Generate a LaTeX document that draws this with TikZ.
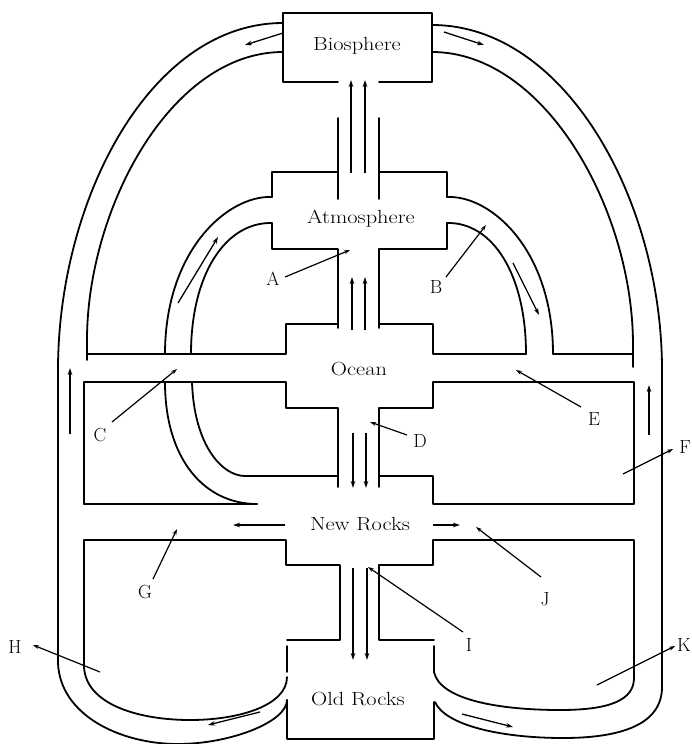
\documentclass[tikz,border=0pt]{standalone}
\usetikzlibrary{arrows.meta}
\newcommand\widetext[1]{\scalebox{1.18}[1]{#1}}
\begin{document}
\begin{tikzpicture}[x=1pt,y=-1pt,
  wall/.style={line width=1.8pt, line join=round, line cap=round},
  flow/.style={line width=1.3pt, -{Stealth[length=7pt,width=4.5pt]}},
  ptr/.style={line width=1.2pt, -{Stealth[length=6pt,width=4pt]}},
  lbl/.style={font=\fontsize{19}{21}\selectfont, inner sep=0pt},
  res/.style={font=\fontsize{19}{21}\selectfont, inner sep=0pt}]
\useasboundingbox (0,0) rectangle (692,744);

% reservoir names
\node[res] (bio) at (357,46) {\widetext{Biosphere}};
\node[res] (atm) at (361,219) {\widetext{Atmosphere}};
\node[res] (oce) at (359,369) {\widetext{Ocean}};
\node[res] (new) at (360,524) {\widetext{New Rocks}};
\node[res] (old) at (358,699) {\widetext{Old Rocks}};

% Biosphere box
\draw[wall] (338,82) -- (283,82) -- (283,13) -- (432,13) -- (432,82) -- (379,82);
% channel biosphere - atmosphere
\draw[wall] (338,118) -- (338,199);
\draw[wall] (379,118) -- (379,199);
% Atmosphere
\draw[wall] (272,197) -- (272,172) -- (338,172);
\draw[wall] (379,172) -- (447,172) -- (447,197);
\draw[wall] (272,223) -- (272,249) -- (338,249) -- (338,328);
\draw[wall] (447,223) -- (447,249) -- (379,249) -- (379,328);
% Ocean
\draw[wall] (87,354) -- (286,354) -- (286,324) -- (338,324);
\draw[wall] (379,324) -- (433,324) -- (433,354) -- (526,354);
\draw[wall] (553,354) -- (633,354);
\draw[wall] (84,504) -- (84,382) -- (286,382) -- (286,408) -- (338,408) -- (338,487);
\draw[wall] (84,504) -- (257,504);
\draw[wall] (245,476) -- (338,476);
\draw[wall] (379,487) -- (379,408) -- (433,408) -- (433,382) -- (634,382) -- (634,504) -- (433,504) -- (433,476) -- (379,476);
% New rocks / H chamber
\draw[wall] (287,672) -- (287,646);
\draw[wall] (287,640) -- (340,640) -- (340,565) -- (286,565) -- (286,540) -- (84,540) -- (84,667);
\draw[wall] (287,677) .. controls (287,705) and (240,720) .. (190,720)
                      .. controls (140,720) and (86,705) .. (84,667);
% K chamber
\draw[wall] (434,672) -- (434,646);
\draw[wall] (434,640) -- (379,640) -- (379,565) -- (433,565) -- (433,540) -- (634,540) -- (634,678);
\draw[wall] (434,672) .. controls (440,700) and (500,710) .. (560,710)
                      .. controls (610,710) and (634,700) .. (634,678);
% Old rocks box
\draw[wall] (287,700) -- (287,739) -- (434,739) -- (434,702);

% big outer tube
\draw[wall] (283,23) .. controls (150,23) and (58,200) .. (58,370) -- (58,663)
            .. controls (60,715) and (120,744) .. (178,744)
            .. controls (230,744) and (287,722) .. (287,700);
\draw[wall] (283,52) .. controls (170,52) and (87,210) .. (87,340) -- (87,360);
\draw[wall] (432,25) .. controls (565,25) and (662,200) .. (662,370) -- (662,687)
            .. controls (662,725) and (620,738) .. (563,738)
            .. controls (500,738) and (445,725) .. (435,702);
\draw[wall] (432,52) .. controls (545,52) and (633,210) .. (633,345) -- (633,367);

% atmosphere tubes
\draw[wall] (272,197) .. controls (228,195) and (165,250) .. (165,354);
\draw[wall] (272,223) .. controls (225,222) and (191,275) .. (191,354);
\draw[wall] (447,197) .. controls (491,195) and (553,250) .. (553,354);
\draw[wall] (447,223) .. controls (493,222) and (526,275) .. (526,354);
% lower left tube
\draw[wall] (165,382) .. controls (165,460) and (205,504) .. (257,504);
\draw[wall] (192,382) .. controls (194,445) and (222,476) .. (245,476);

% flow arrows
\draw[flow] (283,33) -- (245,45);
\draw[flow] (444,32) -- (484,45);
\draw[flow] (351,173) -- (351,80);
\draw[flow] (365,173) -- (365,80);
\draw[flow] (352,330) -- (352,277);
\draw[flow] (365,330) -- (365,277);
\draw[flow] (353,433) -- (353,488);
\draw[flow] (366,433) -- (366,488);
\draw[flow] (353,568) -- (353,660);
\draw[flow] (367,568) -- (367,660);
\draw[flow] (178,303) -- (218,237);
\draw[flow] (513,263) -- (539,315);
\draw[flow] (70,434) -- (70,368);
\draw[flow] (649,435) -- (649,385);
\draw[flow] (285,525) -- (233,525);
\draw[flow] (433,525) -- (460,525);
\draw[flow] (260,712) -- (208,725);
\draw[flow] (462,714) -- (513,727);

% labels with pointers
\node[lbl] (lA) at (273,279) {A};
\node[lbl] (lB) at (436,287) {B};
\node[lbl] (lC) at (100,435) {C};
\node[lbl] (lD) at (420,441) {D};
\node[lbl] (lE) at (594,419) {E};
\node[lbl, anchor=east] (lF) at (691,447) {F};
\node[lbl] (lG) at (145,592) {G};
\node[lbl] (lH) at (15,647) {H};
\node[lbl] (lI) at (469,645) {I};
\node[lbl] (lJ) at (545,599) {J};
\node[lbl, anchor=east] (lK) at (691,645) {K};

\coordinate (tA) at (350,250);
\coordinate (tB) at (486,225);
\coordinate (tC) at (177,369);
\coordinate (tD) at (370,422);
\coordinate (tE) at (516,370);
\coordinate (tF) at (673,449);
\coordinate (tG) at (177,529);
\coordinate (tH) at (33,645);
\coordinate (tI) at (368,567);
\coordinate (tJ) at (476,527);
\coordinate (tK) at (675,646);

\coordinate (sA) at (285,277);
\coordinate (sB) at (446,277);
\coordinate (sC) at (112,422);
\coordinate (sD) at (407,435);
\coordinate (sE) at (581,407);
\coordinate (sF) at (623,474);
\coordinate (sG) at (153,579);
\coordinate (sH) at (100,672);
\coordinate (sI) at (463,632);
\coordinate (sJ) at (541,577);
\coordinate (sK) at (597,685);

\foreach \p in {A,B,C,D,E,F,G,H,I,J,K} {\draw[ptr] (s\p) -- (t\p);}
\end{tikzpicture}
\end{document}
